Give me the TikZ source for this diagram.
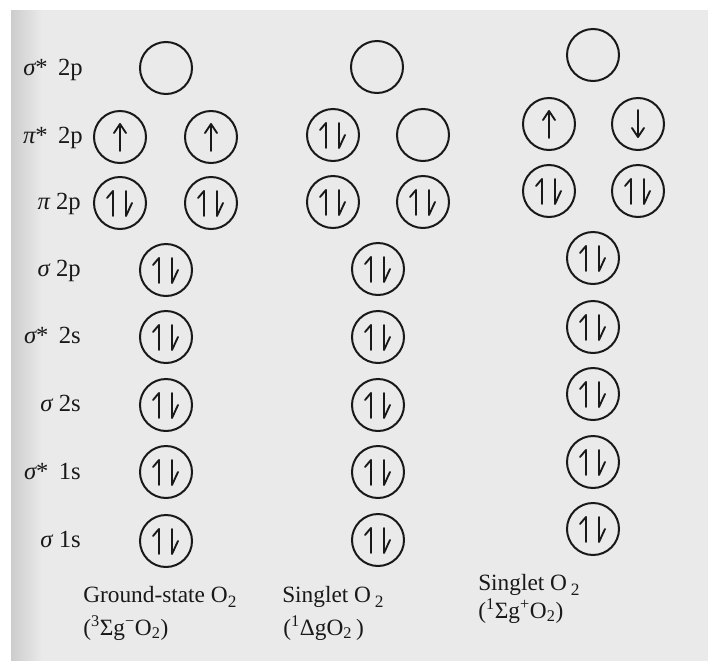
\documentclass[tikz,border=0pt]{standalone}
\usepackage{fontspec}
\setmainfont{Liberation Serif}
\definecolor{paper}{RGB}{234,234,234}
\definecolor{ink}{RGB}{25,25,25}
\newcommand{\lowsub}[1]{\raisebox{-0.5ex}{\fontsize{13}{13}\selectfont #1}}

\tikzset{
  orb/.style={circle, draw=ink, line width=1.5pt, minimum size=39pt, inner sep=0pt},
  lvl/.style={anchor=base east, text=ink, font=\fontsize{18.5}{22}\selectfont, inner sep=0pt},
  statelabel/.style={anchor=base west, text=ink, font=\fontsize{17.5}{21}\selectfont, inner sep=0pt},
  spin/.style={draw=ink, line width=1.4pt, line cap=round, line join=round},
  pics/pair/.style={code={\draw[spin] (-7,13) -- (-7,-12) -- (-13,-5) (6,-12) -- (6,13) -- (12,0);}},
  pics/spinup/.style={code={\draw[spin] (0,14) -- (0,-13) (-6,-4) -- (0,-13) -- (6,-4);}},
  pics/spindown/.style={code={\draw[spin] (0,-14) -- (0,13) (-6,4) -- (0,13) -- (6,4);}},
}

\begin{document}
\begin{tikzpicture}[x=0.75pt,y=-0.75pt]
\useasboundingbox (0,0) rectangle (708,661);
% paper
\fill[paper] (11,10) rectangle (708,661);
\shade[left color=black!20, right color=paper] (11,10) rectangle (42,661);

% level names
\node[lvl] (n-s2ps) at (83,75) {{\itshape σ}*\, 2p};
\node[lvl] (n-p2ps) at (83,143) {{\itshape π}*\, 2p};
\node[lvl] (n-p2p) at (81,209) {{\itshape π} 2p};
\node[lvl] (n-s2p) at (81,276) {{\itshape σ} 2p};
\node[lvl] (n-s2ss) at (81,343) {{\itshape σ}*\, 2s};
\node[lvl] (n-s2s) at (81,411) {{\itshape σ} 2s};
\node[lvl] (n-s1ss) at (81,479) {{\itshape σ}*\, 1s};
\node[lvl] (n-s1s) at (81,547) {{\itshape σ} 1s};

% ground state
\node[orb] (g-s2ps) at (166,68) {};
\node[orb] (g-p2ps-a) at (120,137) {};
\node[orb] (g-p2ps-b) at (211,137) {};
\node[orb] (g-p2p-a) at (120,203) {};
\node[orb] (g-p2p-b) at (211,203) {};
\pic at (g-p2ps-a) {spinup};
\pic at (g-p2ps-b) {spinup};
\pic at (g-p2p-a) {pair};
\pic at (g-p2p-b) {pair};
\foreach \y [count=\i] in {270,337,405,472,541} {
  \node[orb] (g-low\i) at (166,\y) {};
  \pic at (g-low\i) {pair};
}
\node[statelabel] (g-name) at (83,602) {Ground-state O\lowsub{2}};
\node[statelabel] (g-term) at (83,635) {(\textsuperscript{3}Σg\textsuperscript{−}O\textsubscript{2})};

% singlet delta
\node[orb] (d-s2ps) at (377,67) {};
\node[orb] (d-p2ps-a) at (333,135) {};
\node[orb] (d-p2ps-b) at (423,135) {};
\node[orb] (d-p2p-a) at (333,202) {};
\node[orb] (d-p2p-b) at (423,202) {};
\pic at (d-p2ps-a) {pair};
\pic at (d-p2p-a) {pair};
\pic at (d-p2p-b) {pair};
\foreach \y [count=\i] in {269,337,405,472,540} {
  \node[orb] (d-low\i) at (378,\y) {};
  \pic at (d-low\i) {pair};
}
\node[statelabel] (d-name) at (282,602) {Singlet O\,\lowsub{2}};
\node[statelabel] (d-term) at (283,635) {(\textsuperscript{1}ΔgO\textsubscript{2}\,)};

% singlet sigma
\node[orb] (s-s2ps) at (593,55) {};
\node[orb] (s-p2ps-a) at (549,124) {};
\node[orb] (s-p2ps-b) at (638,124) {};
\node[orb] (s-p2p-a) at (549,191) {};
\node[orb] (s-p2p-b) at (638,191) {};
\pic at (s-p2ps-a) {spinup};
\pic at (s-p2ps-b) {spindown};
\pic at (s-p2p-a) {pair};
\pic at (s-p2p-b) {pair};
\foreach \y [count=\i] in {258,327,394,462,529} {
  \node[orb] (s-low\i) at (593,\y) {};
  \pic at (s-low\i) {pair};
}
\node[statelabel] (s-name) at (478,590) {Singlet O\,\lowsub{2}};
\node[statelabel] (s-term) at (478,618) {(\textsuperscript{1}Σg\textsuperscript{+}O\textsubscript{2})};
\end{tikzpicture}
\end{document}
